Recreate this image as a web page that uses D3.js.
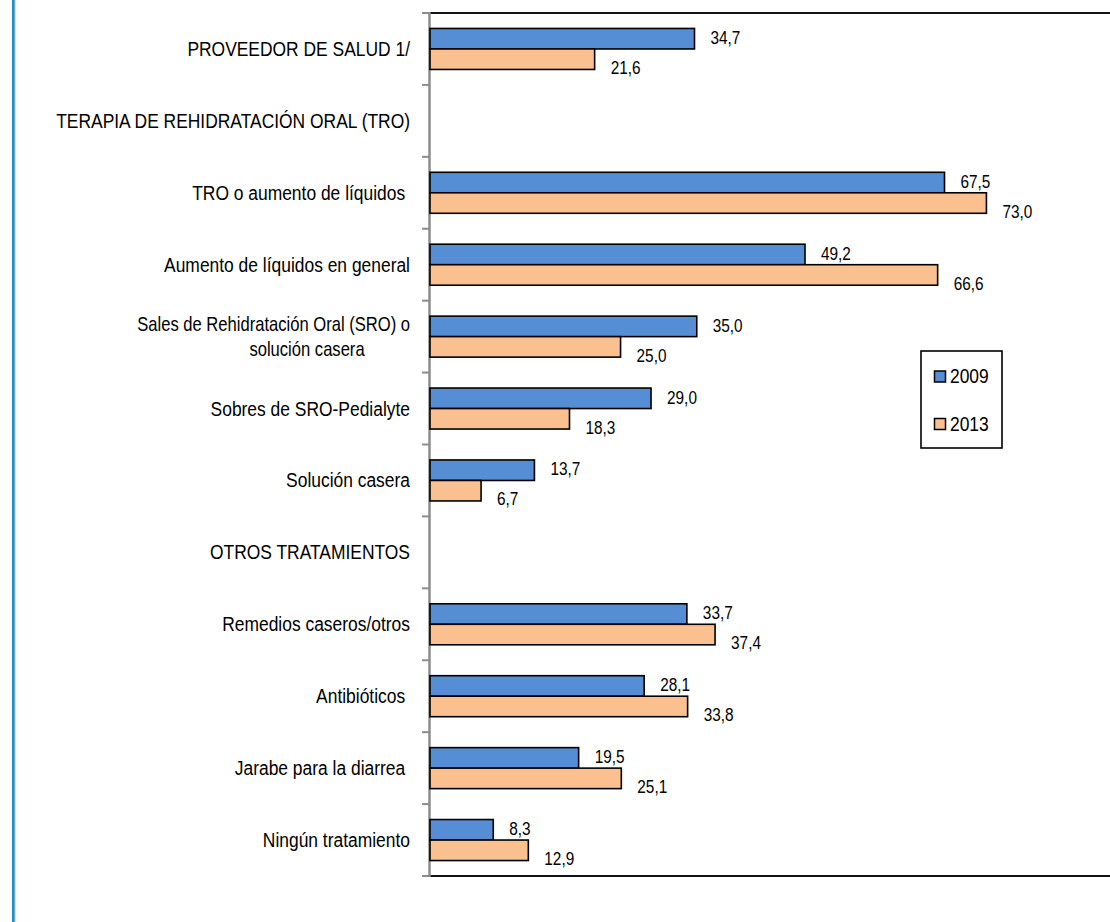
<!DOCTYPE html>
<html><head><meta charset="utf-8">
<script src="https://cdn.jsdelivr.net/npm/d3@7"></script>
<style>
html,body{margin:0;padding:0;background:#fff;}
svg text{font-family:"Liberation Sans",Arial,sans-serif;fill:#000;white-space:pre;}
</style></head>
<body>
<svg id="chart" width="1110" height="922"></svg>
<script>
const categories = [
  ["PROVEEDOR DE SALUD 1/"],
  ["TERAPIA DE REHIDRATACIÓN ORAL (TRO)"],
  ["TRO o aumento de líquidos "],
  ["Aumento de líquidos en general"],
  ["Sales de Rehidratación Oral (SRO) o", "solución casera"],
  ["Sobres de SRO-Pedialyte"],
  ["Solución casera"],
  ["OTROS TRATAMIENTOS"],
  ["Remedios caseros/otros"],
  ["Antibióticos "],
  ["Jarabe para la diarrea "],
  ["Ningún tratamiento"]
];
const seriesNames = ["2009", "2013"];
const values2009 = [34.7, null, 67.5, 49.2, 35.0, 29.0, 13.7, null, 33.7, 28.1, 19.5, 8.3];
const values2013 = [21.6, null, 73.0, 66.6, 25.0, 18.3, 6.7, null, 37.4, 33.8, 25.1, 12.9];
const colors = ["#558ED5", "#FAC090"];

(function () {
const svg = d3.select("#chart");
const W = 1110, H = 922;
const x0 = 430, plotTop = 13, plotBottom = 876;
const NARROW = 0.83;

function ntext(parent, tx, ty, str, size, anchor) {
  return parent.append("text")
    .attr("transform", `translate(${tx},${ty}) scale(${NARROW},1)`)
    .attr("font-size", size)
    .attr("text-anchor", anchor || "start")
    .text(str);
}

const x = d3.scaleLinear().domain([0, 90]).range([x0, 1116]);
const y = d3.scaleBand().domain(d3.range(categories.length)).range([plotTop, plotBottom]).padding(0);
const sub = d3.scaleBand().domain([0, 1]).range([0, 41]);
const off = y.bandwidth() / 2 - 20.5;

// left blue frame line
svg.append("rect").attr("x", 12).attr("y", 0).attr("width", 3).attr("height", H).attr("fill", "#2A8BC1");
svg.append("rect").attr("x", 14.5).attr("y", 0).attr("width", 1).attr("height", H).attr("fill", "#9CCFEA");

// plot border top & bottom
svg.append("line").attr("x1", x0).attr("x2", W).attr("y1", plotTop).attr("y2", plotTop).attr("stroke", "#111").attr("stroke-width", 2);
svg.append("line").attr("x1", x0).attr("x2", W).attr("y1", plotBottom).attr("y2", plotBottom).attr("stroke", "#111").attr("stroke-width", 2);

// category axis with ticks at boundaries
const bounds = d3.range(categories.length + 1).map(i => plotTop + i * y.step());
svg.selectAll("line.tick").data(bounds).join("line")
  .attr("x1", x0 - 8).attr("x2", x0).attr("y1", d => d).attr("y2", d => d)
  .attr("stroke", "#8c8c8c").attr("stroke-width", 2);
svg.append("line").attr("x1", x0 - 0.5).attr("x2", x0 - 0.5).attr("y1", plotTop - 1).attr("y2", plotBottom + 1)
  .attr("stroke", "#8c8c8c").attr("stroke-width", 2.5);

// bars
const series = [values2009, values2013];
series.forEach((vals, s) => {
  const g = svg.append("g");
  const data = vals.map((v, i) => ({v, i})).filter(d => d.v != null);
  g.selectAll("rect").data(data).join("rect")
    .attr("x", x(0))
    .attr("y", d => y(d.i) + off + sub(s))
    .attr("width", d => x(d.v) - x(0))
    .attr("height", sub.bandwidth())
    .attr("fill", colors[s]).attr("stroke", "#000").attr("stroke-width", 1.6);
  data.forEach(d => {
    ntext(g, x(d.v) + 16, y(d.i) + y.bandwidth() / 2 + (s === 0 ? -5 : 25), d3.format(".1f")(d.v).replace(".", ","), 18.5);
  });
});

// category labels
categories.forEach((lines, i) => {
  const c = y(i) + y.bandwidth() / 2;
  if (lines.length === 1) {
    ntext(svg, 410, c + 7, lines[0], 21, "end");
  } else {
    ntext(svg, 410, c - 6, lines[0], 20, "end");
    ntext(svg, 307, c + 19, lines[1], 20, "middle");
  }
});

// legend
const lg = svg.append("g");
lg.append("rect").attr("x", 921).attr("y", 351).attr("width", 81).attr("height", 97)
  .attr("fill", "#fff").attr("stroke", "#000").attr("stroke-width", 1.6);
seriesNames.forEach((n, i) => {
  const yy = 376 + i * 47.5;
  lg.append("rect").attr("x", 934.5).attr("y", yy - 5).attr("width", 11).attr("height", 11)
    .attr("fill", colors[i]).attr("stroke", "#000").attr("stroke-width", 1.5);
  ntext(lg, 950, yy + 7, n, 21);
});
})();
</script>
</body></html>
